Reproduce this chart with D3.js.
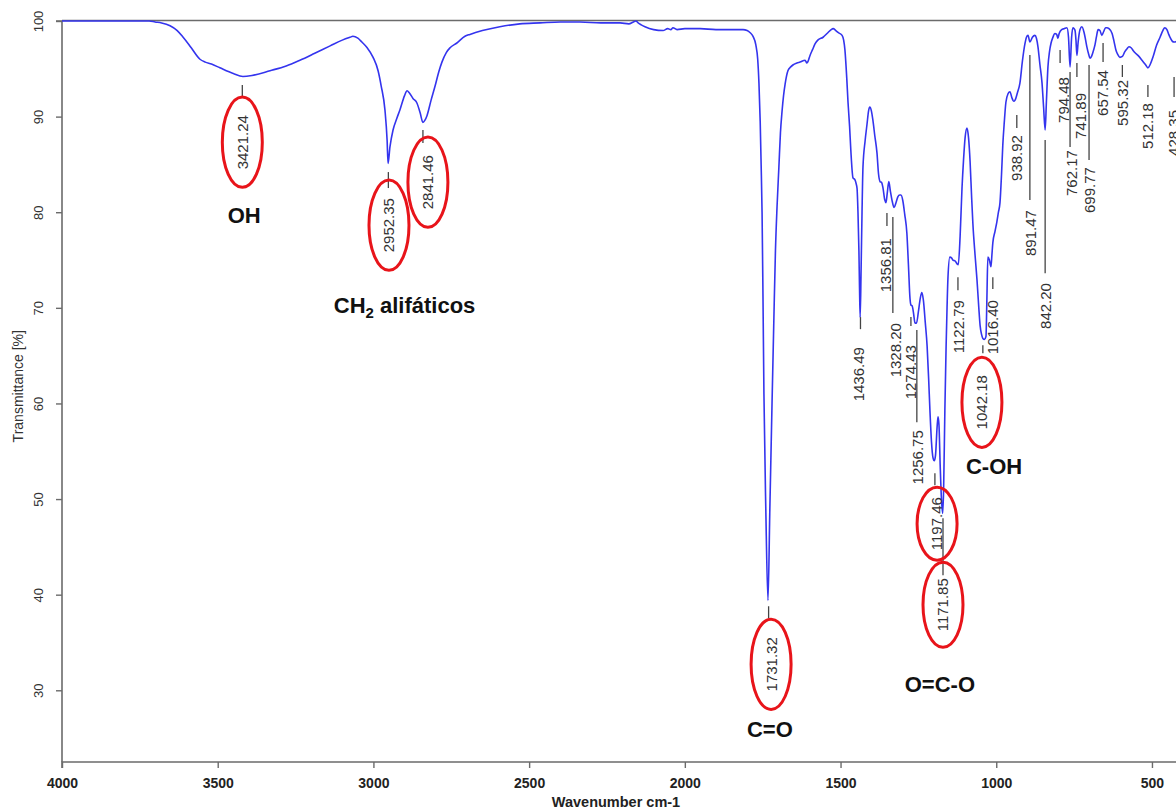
<!DOCTYPE html>
<html><head><meta charset="utf-8">
<script src="https://cdn.jsdelivr.net/npm/d3@7"></script>
<style>body{margin:0;background:#fff;} svg{display:block;font-family:"Liberation Sans",Arial,Helvetica,sans-serif;}</style>
</head><body><svg id="chart" width="1176" height="812"></svg>
<script>
// ---------- DATA ----------
const wavenumber = [4000,3900,3800,3720,3701,3680,3653,3630,3611,3585,3557,3540,3520,3493,3450,3419,3390,3332,3280,3236,3190,3139,3100,3075,3066,3050,3037,3020,3001,2985,2975,2963,2956,2953,2947,2937,2925,2915,2900,2892,2885,2873,2860,2850,2841,2835,2828,2815,2802,2790,2780,2766,2754,2732,2706,2690,2650,2594,2530,2465,2400,2337,2270,2208,2180,2165,2157,2150,2140,2128,2100,2070,2055,2045,2038,2025,2000,1951,1900,1845,1813,1800,1791,1781,1772,1766,1762,1758,1755,1752,1749,1746,1740,1733,1727,1720,1714,1709,1704,1698,1693,1688,1683,1678,1669,1660,1653,1640,1630,1614,1608,1603,1598,1590,1582,1573,1556,1540,1530,1524,1515,1508,1495,1490,1486,1480,1476,1471,1467,1460,1454,1450,1447,1444,1441,1439,1437,1434,1431,1428,1421,1415,1410,1406,1401,1396,1390,1383,1378,1373,1368,1364,1358,1354,1350,1345,1340,1335,1328,1322,1316,1310,1306,1300,1294,1287,1282,1277,1274,1270,1265,1261,1256,1250,1244,1239,1234,1228,1222,1217,1213,1208,1203,1199,1195,1190,1187,1184,1180,1176,1172,1169,1165,1161,1158,1155,1149,1143,1139,1132,1126,1122,1116,1110,1105,1100,1094,1089,1084,1079,1075,1068,1062,1056,1052,1047,1043,1038,1033,1030,1027,1022,1017,1014,1011,1004,998,993,988,983,979,974,969,962,956,950,944,940,932,924,916,908,903,898,892,884,876,871,866,860,853,848,843,839,834,829,824,818,812,806,802,798,790,782,773,768,763,758,754,750,747,744,741,737,731,725,718,713,709,703,699,694,688,683,678,673,667,661,655,649,645,638,628,622,616,610,603,595,587,580,574,567,560,555,545,532,520,513,505,497,485,474,465,459,452,446,442,435,429,420,410,400];
const transmittance = [100.0,100.0,100.0,100.0,99.9,99.8,99.5,99.0,98.3,97.2,96.0,95.7,95.5,95.1,94.5,94.2,94.3,94.8,95.3,95.9,96.6,97.4,98.0,98.3,98.4,98.2,97.8,97.2,96.2,94.8,93.2,90.7,87.5,85.1,86.8,88.6,89.8,90.7,92.2,92.7,92.5,91.9,91.4,90.4,89.4,89.6,90.1,91.7,93.2,94.7,95.7,96.7,97.2,97.7,98.4,98.6,99.0,99.4,99.7,99.8,99.9,99.9,99.8,99.8,99.7,99.9,100.0,99.8,99.6,99.4,99.1,99.0,99.2,99.1,99.3,99.1,99.2,99.2,99.1,99.1,99.1,99.0,98.8,98.4,97.5,96.0,93.5,89.5,85.0,80.0,71.0,61.0,49.0,39.4,49.0,60.0,69.0,76.0,80.5,84.7,88.3,90.5,92.2,93.4,94.8,95.2,95.4,95.6,95.7,95.9,95.6,95.9,96.4,97.0,97.6,98.0,98.3,98.8,99.1,99.2,99.0,98.8,98.5,98.0,97.0,94.0,91.5,89.0,86.5,83.6,83.4,83.0,82.5,80.0,76.0,72.0,69.0,74.0,80.0,84.7,87.5,89.2,90.6,91.0,90.6,89.6,88.0,86.2,84.0,83.2,83.1,82.6,81.3,81.0,82.0,83.2,82.2,81.3,80.5,81.0,81.6,81.8,81.8,81.2,79.8,77.8,74.5,71.0,70.3,70.2,69.3,68.4,68.4,69.6,71.0,71.6,70.8,68.5,66.0,62.5,59.3,56.0,54.3,54.0,54.6,57.5,58.6,57.8,53.5,50.0,48.5,51.0,59.3,66.0,70.0,73.2,75.3,75.2,75.0,74.9,74.6,74.5,77.5,82.5,85.5,87.8,88.8,87.8,85.3,81.5,78.8,75.5,73.0,70.0,68.2,67.2,66.8,66.7,67.0,71.0,75.3,75.0,74.3,75.5,76.8,78.0,79.0,80.0,81.0,84.0,87.0,89.5,91.5,92.4,92.6,92.0,91.6,91.7,92.5,93.5,95.8,97.6,98.3,98.5,97.8,98.3,98.5,98.2,97.3,95.5,93.5,91.0,88.6,91.5,95.2,96.8,97.7,98.3,98.7,98.6,98.2,98.7,99.1,99.2,99.3,98.3,95.2,98.3,99.3,99.2,99.0,98.0,96.4,97.8,99.1,99.4,98.8,98.0,97.3,96.5,96.1,96.3,96.9,97.5,98.4,99.1,99.0,98.5,98.9,99.3,99.3,99.2,98.7,97.9,97.0,96.5,96.2,96.3,96.8,97.1,97.3,97.2,96.9,96.7,96.4,95.9,95.4,95.1,95.5,96.2,97.5,98.3,99.0,99.3,99.1,98.6,98.3,97.9,97.8,97.9,98.3,98.6];

const xTicks = [4000,3500,3000,2500,2000,1500,1000,500];
const yTicks = [30,40,50,60,70,80,90,100];

// peak labels
const peakLabels   = ["3421.24","2952.35","2841.46","1731.32","1436.49","1356.81","1328.20","1274.43","1256.75","1197.46","1171.85","1122.79","1042.18","1016.40","938.92","891.47","842.20","794.48","762.17","741.89","699.77","657.54","595.32","512.18","428.35"];
const labelTextWn  = [3421,2950,2825,1723,1441,1354,1322,1274,1251,1190,1171,1120,1046,1011,934,889,840,783,757,729,699,657,593,513,429];
const labelTextTopT= [90.16,81.48,85.98,35.55,65.89,77.30,68.40,66.10,57.20,50.20,41.72,70.81,62.96,70.81,88.07,80.22,72.59,94.14,86.50,92.47,84.72,94.87,93.83,91.42,90.69];
const lineWn       = [3421,2952,2841,1731,1436,1351,1332,1274,1255,1197,1171,1123,1043,1011,934,892,843,795,763,741,702,657,595,513,429];
const lineTopT     = [93.30,84.20,88.60,38.79,69.03,79.91,79.49,69.03,67.67,52.71,48.00,73.21,66.10,73.21,90.16,96.44,87.55,96.97,94.66,95.61,95.40,97.70,95.40,93.30,94.14];
const lineBottomT  = [91.94,82.53,87.24,37.54,67.77,78.55,69.45,68.09,58.04,51.45,42.03,71.85,65.26,71.96,88.80,81.27,73.63,95.61,86.82,94.14,85.46,95.71,94.14,92.05,92.05];
const circledLabels = ["3421.24","2952.35","2841.46","1731.32","1197.46","1171.85","1042.18"];

// functional group annotations
const groupNames = ["OH","CH2 alifáticos","C=O","O=C-O","C-OH"];
const groupWn    = [3415,2900,1727,1181,1007];
const groupT     = [78.9,69.45,25.1,29.8,52.6];

// ---------- CHART ----------
const svg = d3.select("#chart");
const x = d3.scaleLinear().domain([4000,400]).range([62,1183.1]);
const y = d3.scaleLinear().domain([100,22.5]).range([21,762]);
const axisColor = "#6b6b6b";

// frame top line
svg.append("line").attr("x1",x(4000)).attr("x2",1176).attr("y1",y(100)-0.5).attr("y2",y(100)-0.5)
  .attr("stroke",axisColor).attr("stroke-width",1.6);

// bottom axis
const xAxis = svg.append("g").attr("transform",`translate(0,${y(22.5)})`)
  .call(d3.axisBottom(x).tickValues(xTicks).tickSize(6).tickFormat(d3.format("d")));
xAxis.select(".domain").attr("stroke",axisColor).attr("stroke-width",1.6).attr("d",`M${x(4000)},6V0H1176`);
xAxis.selectAll(".tick line").attr("stroke",axisColor).attr("stroke-width",1.4);
xAxis.selectAll(".tick text").attr("font-size",14).attr("font-weight","bold").attr("fill","#222")
  .attr("font-family","'Liberation Sans',Arial,sans-serif").attr("y",16).attr("dy","0.71em");

// left axis
const yAxis = svg.append("g").attr("transform",`translate(${x(4000)},0)`)
  .call(d3.axisLeft(y).tickValues(yTicks).tickSize(6).tickFormat(d3.format("d")));
yAxis.select(".domain").attr("stroke",axisColor).attr("stroke-width",1.6).attr("d",`M-6,${y(100)}H0V${y(22.5)}`);
yAxis.selectAll(".tick line").attr("stroke",axisColor).attr("stroke-width",1.4);
yAxis.selectAll(".tick text").attr("font-size",13).attr("fill","#333")
  .attr("font-family","'Liberation Sans',Arial,sans-serif")
  .attr("x",0).attr("dy",0).attr("text-anchor","middle")
  .attr("transform","translate(-19,0) rotate(-90)");

// axis titles
svg.append("text").attr("x",616).attr("y",807).attr("text-anchor","middle")
  .attr("font-size",14.5).attr("font-weight","bold").attr("fill","#222").text("Wavenumber cm-1");
svg.append("text").attr("transform",`translate(23,${y(61.8)}) rotate(-90)`).attr("text-anchor","middle")
  .attr("font-size",14).attr("fill","#333").text("Transmittance [%]");

// spectrum
const pts = wavenumber.map((w,i)=>[w,transmittance[i]]);
svg.append("defs").append("clipPath").attr("id","plotclip").append("rect")
  .attr("x",x(4000)).attr("y",0).attr("width",1176-x(4000)).attr("height",y(22.5));
svg.append("path").datum(pts).attr("clip-path","url(#plotclip)")
  .attr("fill","none").attr("stroke","#3434ee").attr("stroke-width",1.6).attr("stroke-linejoin","round")
  .attr("d",d3.line().x(d=>x(d[0])).y(d=>y(d[1])).curve(d3.curveMonotoneX));

// peak label lines
const ann = svg.append("g");
peakLabels.forEach((lab,i)=>{
  ann.append("line").attr("x1",x(lineWn[i])).attr("x2",x(lineWn[i]))
    .attr("y1",y(lineTopT[i])).attr("y2",y(lineBottomT[i]))
    .attr("stroke","#444").attr("stroke-width",1.3);
});
// peak label texts
const labelNodes = {};
peakLabels.forEach((lab,i)=>{
  const tx = x(labelTextWn[i]), ty = y(labelTextTopT[i]);
  const t = ann.append("text").attr("transform",`translate(${tx},${ty}) rotate(-90)`)
    .attr("text-anchor","end").attr("dy","0.36em")
    .attr("font-size",15).attr("fill","#333").text(lab);
  labelNodes[lab] = {node:t.node(), tx, ty};
});
// red ellipses
const ellipsePad = {"1197.46":10,"1171.85":16};
circledLabels.forEach(lab=>{
  const o = labelNodes[lab];
  const L = o.node.getComputedTextLength();
  const pad = ellipsePad[lab] ?? 18;
  svg.append("ellipse").attr("cx",o.tx).attr("cy",o.ty + L/2)
    .attr("rx",20).attr("ry",L/2 + pad)
    .attr("fill","none").attr("stroke","#e8141a").attr("stroke-width",3);
});

// group annotations
groupNames.forEach((g,i)=>{
  const t = svg.append("text").attr("x",x(groupWn[i])).attr("y",y(groupT[i]))
    .attr("text-anchor","middle").attr("font-size",22).attr("font-weight","bold").attr("fill","#111");
  if (g.startsWith("CH2")) {
    t.append("tspan").text("CH");
    t.append("tspan").attr("font-size",15).attr("dy",5).text("2");
    t.append("tspan").attr("dy",-5).text(g.slice(3));
  } else t.text(g);
});
</script></body></html>
